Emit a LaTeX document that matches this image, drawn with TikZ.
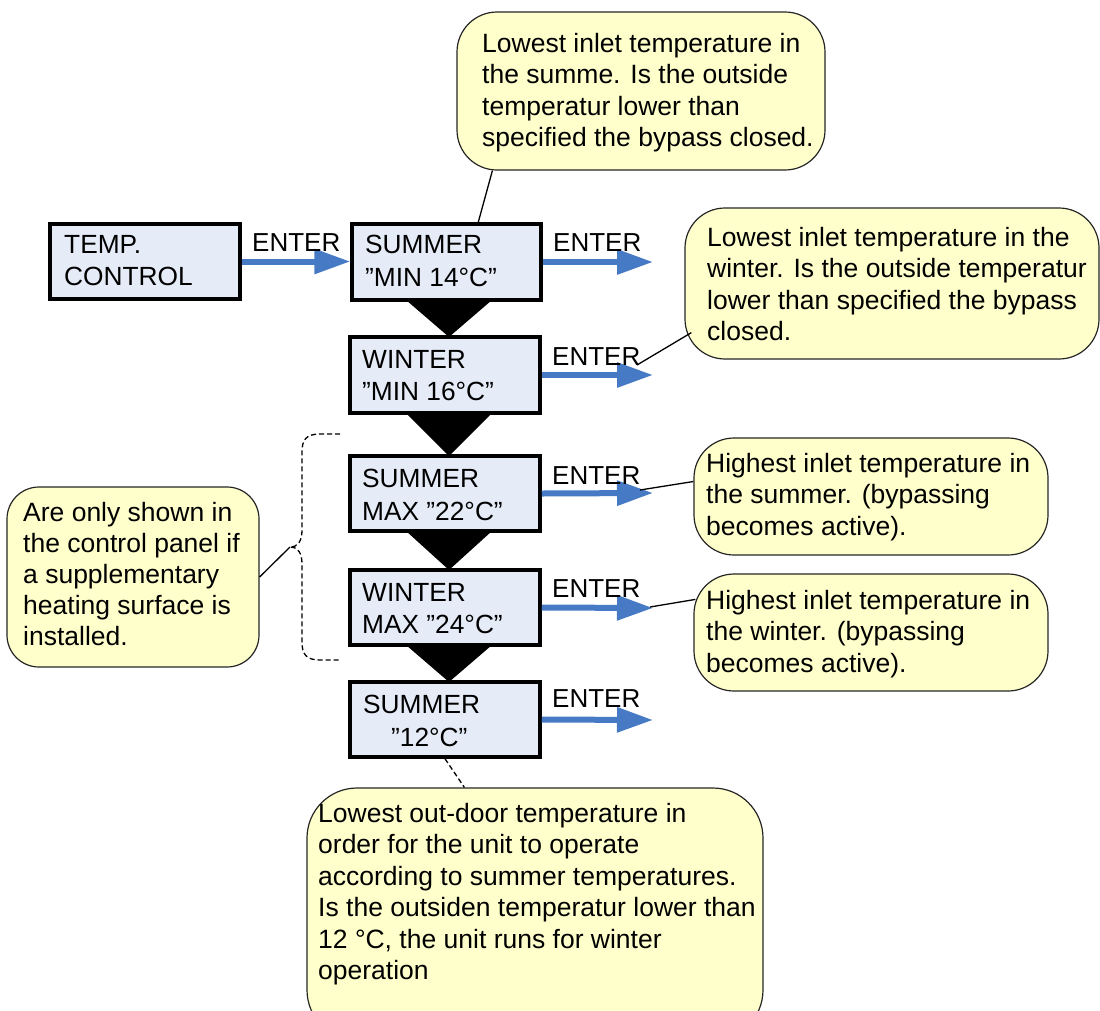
\documentclass[tikz,border=0pt]{standalone}
\usepackage{fontspec}
\setmainfont{Liberation Sans}
\usetikzlibrary{arrows.meta,calc}
\definecolor{boxfill}{RGB}{230,236,247}
\definecolor{notefill}{RGB}{255,255,204}
\definecolor{flowblue}{RGB}{71,122,196}
\begin{document}
\begin{tikzpicture}[x=1pt,y=-1pt,
  stepbox/.style={draw=black, line width=3.5pt, fill=boxfill, inner sep=0pt, minimum width=190pt, minimum height=75pt},
  note/.style={draw=black!85, line width=1.2pt, fill=notefill, rounded corners=40pt, inner sep=0pt},
  txt/.style={anchor=north west, inner sep=0pt, align=left, font=\fontsize{26.5pt}{31.5pt}\selectfont},
  etxt/.style={anchor=north west, inner sep=0pt, font=\fontsize{26pt}{31.5pt}\selectfont},
  btxt/.style={anchor=north west, inner sep=0pt, align=left, font=\fontsize{26.3pt}{32.5pt}\selectfont},
  flow/.style={draw=flowblue, line width=6pt, -{Triangle[length=36pt,width=24pt]}},
  tri/.style={fill=black},
  link/.style={draw=black, line width=1.3pt},
  dlink/.style={draw=black, line width=1.3pt, dash pattern=on 5pt off 3pt},
]
\useasboundingbox (0,0) rectangle (1100,1010);
\clip (0,0) rectangle (1100,1010);

% callout shapes
\node[note, minimum width=368pt, minimum height=158pt] (c1) at (641,91) {};
\node[note, minimum width=414pt, minimum height=151pt] (c2) at (892,283.5) {};
\node[note, minimum width=354pt, minimum height=117pt] (c3) at (871,496.5) {};
\node[note, minimum width=354pt, minimum height=117pt] (c4) at (871,632.5) {};
\node[note, rounded corners=32pt, minimum width=252pt, minimum height=180pt] (c5) at (133,577) {};
\node[note, rounded corners=50pt, minimum width=456pt, minimum height=252pt] (c6) at (535,914) {};

% triangles between steps
\fill[tri] (406,300) -- (492,300) -- (449,337) -- cycle;
\fill[tri] (406,413) -- (492,413) -- (449,456) -- cycle;
\fill[tri] (406,531) -- (492,531) -- (449,570) -- cycle;
\fill[tri] (406,645) -- (492,645) -- (449,682) -- cycle;

% step boxes
\node[stepbox] (b0) at (145,261.5) {};
\node[stepbox, minimum width=189pt, minimum height=76pt] (b1) at (446.5,262) {};
\node[stepbox, minimum height=76pt] (b2) at (445,375) {};
\node[stepbox] (b3) at (445,493.5) {};
\node[stepbox] (b4) at (445,607.5) {};
\node[stepbox] (b5) at (445,719.5) {};

% box texts
\node[btxt] (b0t) at (64,235) {TEMP.\\CONTROL};
\node[btxt] (b1t) at (365,235) {SUMMER\\”MIN 14°C”};
\node[btxt] (b2t) at (362,350) {WINTER\\”MIN 16°C”};
\node[btxt] (b3t) at (362,469) {SUMMER\\MAX ”22°C”};
\node[btxt] (b4t) at (362,583) {WINTER\\MAX ”24°C”};
\node[btxt] (b5t) at (363,695) {SUMMER\\\hspace*{28pt}”12°C”};

% flow arrows
\coordinate (a1) at (653,262);
\coordinate (a2) at (653,375);
\coordinate (a3) at (653,493);
\coordinate (a4) at (653,608);
\coordinate (a5) at (653,720);
\draw[flow] (b0.east) -- (b1.west |- b0.east);
\draw[flow] (b1.east) -- (a1);
\draw[flow] (b2.east) -- (a2);
\draw[flow] (b3.east) -- (a3);
\draw[flow] (b4.east) -- (a4);
\draw[flow] (b5.east) -- (a5);

% ENTER labels
\node[etxt] (e0) at (252,233) {ENTER};
\node[etxt] (e1) at (553,233) {ENTER};
\node[etxt] (e2) at (552,347) {ENTER};
\node[etxt] (e3) at (552,466) {ENTER};
\node[etxt] (e4) at (552,579) {ENTER};
\node[etxt] (e5) at (552,689) {ENTER};

% callout texts
\node[txt] (c1t) at (482,33) {Lowest inlet temperature in\\the summe. Is the outside\\temperatur lower than\\specified the bypass closed.};
\node[txt] (c2t) at (707,227) {Lowest inlet temperature in the\\winter. Is the outside temperatur\\lower than specified the bypass\\closed.};
\node[txt] (c3t) at (706,453) {Highest inlet temperature in\\the summer. (bypassing\\becomes active).};
\node[txt] (c4t) at (706,590) {Highest inlet temperature in\\the winter. (bypassing\\becomes active).};
\node[txt, font=\fontsize{26.5pt}{31pt}\selectfont] (c5t) at (23,502) {Are only shown in\\the control panel if\\a supplementary\\heating surface is\\installed.};
\node[txt] (c6t) at (318,803) {Lowest out-door temperature in\\order for the unit to operate\\according to summer temperatures.\\Is the outsiden temperatur lower than\\12 °C, the unit runs for winter\\operation};

% dashed brace
\coordinate (br) at (290,547);
\draw[dlink] (340,434) -- (320,434) .. controls (306,434) and (302,440) .. (302,452) -- (302,530) .. controls (302,541) and (298,547) .. (br) .. controls (298,547) and (302,553) .. (302,564) -- (302,642) .. controls (302,654) and (306,660) .. (320,660) -- (341,660);

% connectors
\coordinate (p2) at (637,365);
\coordinate (p3) at (640,490);
\coordinate (p4) at (650,607);
\draw[link] ($(b1.north west)+(128,0)$) -- ($(c1.south west)+(36,0)$);
\draw[link] (p2) -- ($(c2.south west)+(7,-27)$);
\draw[link] (p3) -- ($(c3.west)+(0,-15)$);
\draw[link] (p4) -- ($(c4.north west)+(2,26)$);
\draw[link] (c5.east) -- (br);
\draw[dlink] (b5.south) -- ($(c6.north west)+(158,0)$);
\end{tikzpicture}
\end{document}
